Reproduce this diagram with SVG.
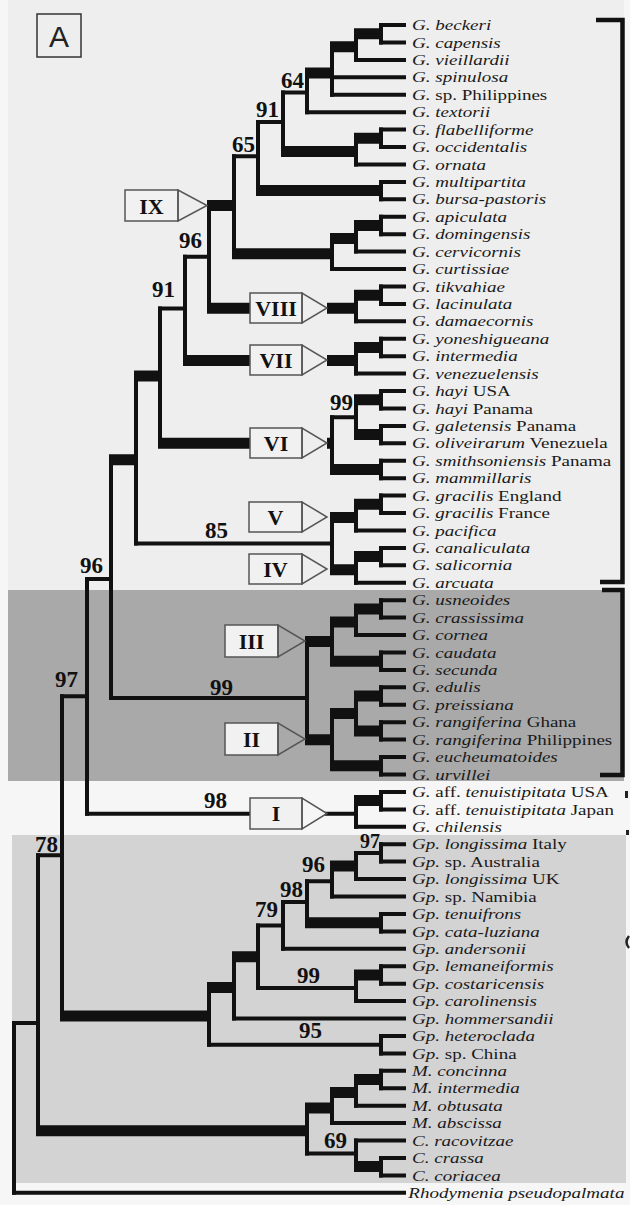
<svg xmlns="http://www.w3.org/2000/svg" width="630" height="1205" viewBox="0 0 630 1205">
<style>
.thin{fill:none;stroke:#111;stroke-width:4;stroke-linecap:square}
.thick{fill:none;stroke:#111;stroke-width:11;stroke-linecap:butt}
.lf{font-family:"Liberation Serif",serif;font-size:15.6px;fill:#1a1a1a}
.i{font-style:italic}
.bs{font-family:"Liberation Serif",serif;font-size:23px;font-weight:bold;fill:#111;text-anchor:end}
.bx{fill:#f1f1f1;stroke:#555;stroke-width:1.5}
.tri{fill:none;stroke:#555;stroke-width:1.5}
.rn{font-family:"Liberation Serif",serif;font-size:22px;font-weight:bold;fill:#111;text-anchor:middle}
.br{fill:none;stroke:#111;stroke-width:4.5}
</style>
<rect x="0" y="0" width="630" height="1205" fill="#f6f6f6"/>
<rect x="8" y="0" width="616" height="590" fill="#eeeeee"/>
<rect x="8" y="590" width="616" height="191" fill="#a9a9a9"/>
<rect x="12" y="835" width="614" height="348" fill="#d3d3d3"/>

<g id="panel-label">
<rect x="37" y="14" width="44" height="43" fill="none" stroke="#333" stroke-width="1.5"/>
<text x="59" y="47" font-family="Liberation Sans,Arial,sans-serif" font-size="30" text-anchor="middle" fill="#222">A</text>
</g>

<g id="connectors">
<path class="thin" d="M14 1023V1192.8M38 855.3V1130.7M62 696.3V1016M87 578.9V813.7M111 459.7V698M136 376V543.5M160 308.6V443.3M185 256.7V360.5M209 205V308.3M234 156.3V253.8M258 122V190.6M283 92.6V151.4M307 72.9V112.2M332 46.8V94.7M356 33.7V59.9M381 25V42.4M381 129.6V147M356 138.3V164.4M381 181.9V199.3M381 216.7V234.2M356 225.5V251.6M332 238.5V269M381 286.5V303.9M356 295.2V321.3M381 338.7V356.2M356 347.4V373.6M381 391V408.5M381 425.9V443.3M356 399.7V434.6M381 460.8V478.2M332 417.2V469.5M381 495.6V513M356 504.3V530.5M381 547.9V565.3M356 556.6V582.8M332 517.4V569.7M381 600.2V617.6M356 608.9V635.1M381 652.5V669.9M332 622V661.2M381 687.3V704.8M381 722.2V739.6M356 696V730.9M381 757.1V774.5M332 713.5V765.8M307 641.6V739.7M381 791.9V809.4M356 800.6V826.8M381 844.2V861.6M356 852.9V879.1M332 866V896.5M381 913.9V931.4M307 881.3V922.7M283 902V948.8M381 966.2V983.7M356 975V1001.1M258 925.4V988M234 956.7V1018.5M381 1035.9V1053.4M209 987.6V1044.7M381 1070.8V1088.2M356 1079.5V1105.7M332 1092.6V1123.1M381 1157.9V1175.4M356 1140.5V1166.6M307 1107.9V1153.6"/>
<path class="thin" d="M381 25H404M381 42.4H404M356 59.9H404M332 77.3H404M332 94.7H404M307 112.2H404M381 129.6H404M381 147H404M356 164.4H404M381 181.9H404M381 199.3H404M381 216.7H404M381 234.2H404M356 251.6H404M332 269H404M381 286.5H404M381 303.9H404M356 321.3H404M381 338.7H404M381 356.2H404M356 373.6H404M381 391H404M381 408.5H404M381 425.9H404M381 443.3H404M381 460.8H404M381 478.2H404M381 495.6H404M381 513H404M356 530.5H404M381 547.9H404M381 565.3H404M356 582.8H404M381 600.2H404M381 617.6H404M356 635.1H404M381 652.5H404M381 669.9H404M381 687.3H404M381 704.8H404M381 722.2H404M381 739.6H404M381 757.1H404M381 774.5H404M381 791.9H404M381 809.4H404M356 826.8H404M381 844.2H404M381 861.6H404M356 879.1H404M332 896.5H404M381 913.9H404M381 931.4H404M283 948.8H404M381 966.2H404M381 983.7H404M356 1001.1H404M234 1018.5H404M381 1035.9H404M381 1053.4H404M381 1070.8H404M381 1088.2H404M356 1105.7H404M332 1123.1H404M356 1140.5H404M381 1157.9H404M381 1175.4H404M14 1192.8H404"/>
<path class="thin" d="M14 1023H38M38 855.3H62M62 696.3H87M87 578.9H111M87 813.7H250M327 813.7H356M111 698H307M136 543.5H332M160 308.6H185M185 256.7H209M234 156.3H258M258 122H283M283 92.6H307M332 417.2H356M356 852.9H381M307 881.3H332M283 902H307M258 925.4H283M258 988H356M209 1044.7H381M307 1153.6H356"/>
<path class="thick" d="M36 1130.7H309M60 1016H211M109 459.7H138M134 376H162M158 443.3H250M327 443.3H334M183 360.5H250M327 360.5H358M207 205.5H236M207 308.3H250M327 308.3H358M232 253.8H334M256 190.6H383M281 151.4H358M305 72.9H334M330 46.8H358M354 33.7H383M354 138.3H383M330 238.5H358M354 225.5H383M354 295.2H383M354 347.4H383M330 469.5H383M354 399.7H383M354 434.6H383M330 517.4H358M354 504.3H383M330 569.7H358M354 556.6H383M305 641.6H334M330 622H358M354 608.9H383M330 661.2H383M305 739.7H334M330 713.5H358M354 696H383M354 730.9H383M330 765.8H383M354 800.6H383M330 866H358M305 922.7H383M207 987.6H236M232 956.7H260M354 975H383M305 1107.9H334M330 1092.6H358M354 1079.5H383M354 1166.6H383"/>
</g>

<g id="clade-IX"><rect class="bx" x="125" y="190" width="53" height="31"/><polygon class="tri" points="178,190 178,221 207,205.5"/><text class="rn" x="151.5" y="213.5">IX</text></g>
<g id="clade-VIII"><rect class="bx" x="250" y="293" width="52" height="30"/><polygon class="tri" points="302,293 302,323 327,308"/><text class="rn" x="276" y="316">VIII</text></g>
<g id="clade-VII"><rect class="bx" x="250" y="345" width="52" height="30"/><polygon class="tri" points="302,345 302,375 327,360"/><text class="rn" x="276" y="368">VII</text></g>
<g id="clade-VI"><rect class="bx" x="250" y="428" width="52" height="30"/><polygon class="tri" points="302,428 302,458 327,443"/><text class="rn" x="276" y="451">VI</text></g>
<g id="clade-V"><rect class="bx" x="249" y="502" width="53" height="30"/><polygon class="tri" points="302,502 302,532 327,517"/><text class="rn" x="275.5" y="525">V</text></g>
<g id="clade-IV"><rect class="bx" x="249" y="554" width="53" height="30"/><polygon class="tri" points="302,554 302,584 327,569"/><text class="rn" x="275.5" y="577">IV</text></g>
<g id="clade-III"><rect class="bx" x="225" y="625" width="53" height="32"/><polygon class="tri" points="278,625 278,657 305,641"/><text class="rn" x="251.5" y="649">III</text></g>
<g id="clade-II"><rect class="bx" x="225" y="723" width="53" height="32"/><polygon class="tri" points="278,723 278,755 305,739"/><text class="rn" x="251.5" y="747">II</text></g>
<g id="clade-I"><rect class="bx" x="250" y="798" width="52" height="31"/><polygon class="tri" points="302,798 302,829 327,813.5"/><text class="rn" x="276" y="821">I</text></g>

<g id="support">
<text class="bs" x="304" y="88">64</text>
<text class="bs" x="279" y="117">91</text>
<text class="bs" x="255" y="152">65</text>
<text class="bs" x="202" y="248">96</text>
<text class="bs" x="175" y="297">91</text>
<text class="bs" x="353" y="410">99</text>
<text class="bs" x="228" y="538">85</text>
<text class="bs" x="103" y="573">96</text>
<text class="bs" x="78" y="687">97</text>
<text class="bs" x="233" y="695">99</text>
<text class="bs" x="227" y="808">98</text>
<text class="bs" x="58" y="852">78</text>
<text class="bs" x="380" y="848" style="font-size:20px">97</text>
<text class="bs" x="325" y="872">96</text>
<text class="bs" x="303" y="897">98</text>
<text class="bs" x="278" y="917">79</text>
<text class="bs" x="320" y="983">99</text>
<text class="bs" x="322" y="1038">95</text>
<text class="bs" x="347" y="1148">69</text>
</g>

<g id="brackets">
<path class="br" d="M596 20H622.5V582H600"/>
<path class="br" d="M602 590H622.5V775H600"/>
<rect x="625" y="791" width="3" height="7" fill="#222"/>
<rect x="626" y="830" width="3" height="5" fill="#222"/>
<path d="M629 936Q624 942 629 948" fill="none" stroke="#222" stroke-width="2.5"/>
</g>

<g id="leaves" transform="translate(412 -1.3) scale(1.22 1) translate(-412 0)">
<g id="t01"><text class="lf" x="412" y="31.5"><tspan class="i">G. beckeri</tspan></text></g>
<g id="t02"><text class="lf" x="412" y="48.9"><tspan class="i">G. capensis</tspan></text></g>
<g id="t03"><text class="lf" x="412" y="66.4"><tspan class="i">G. vieillardii</tspan></text></g>
<g id="t04"><text class="lf" x="412" y="83.8"><tspan class="i">G. spinulosa</tspan></text></g>
<g id="t05"><text class="lf" x="412" y="101.2"><tspan class="i">G.</tspan> sp. Philippines</text></g>
<g id="t06"><text class="lf" x="412" y="118.7"><tspan class="i">G. textorii</tspan></text></g>
<g id="t07"><text class="lf" x="412" y="136.1"><tspan class="i">G. flabelliforme</tspan></text></g>
<g id="t08"><text class="lf" x="412" y="153.5"><tspan class="i">G. occidentalis</tspan></text></g>
<g id="t09"><text class="lf" x="412" y="170.9"><tspan class="i">G. ornata</tspan></text></g>
<g id="t10"><text class="lf" x="412" y="188.4"><tspan class="i">G. multipartita</tspan></text></g>
<g id="t11"><text class="lf" x="412" y="205.8"><tspan class="i">G. bursa-pastoris</tspan></text></g>
<g id="t12"><text class="lf" x="412" y="223.2"><tspan class="i">G. apiculata</tspan></text></g>
<g id="t13"><text class="lf" x="412" y="240.7"><tspan class="i">G. domingensis</tspan></text></g>
<g id="t14"><text class="lf" x="412" y="258.1"><tspan class="i">G. cervicornis</tspan></text></g>
<g id="t15"><text class="lf" x="412" y="275.5"><tspan class="i">G. curtissiae</tspan></text></g>
<g id="t16"><text class="lf" x="412" y="293"><tspan class="i">G. tikvahiae</tspan></text></g>
<g id="t17"><text class="lf" x="412" y="310.4"><tspan class="i">G. lacinulata</tspan></text></g>
<g id="t18"><text class="lf" x="412" y="327.8"><tspan class="i">G. damaecornis</tspan></text></g>
<g id="t19"><text class="lf" x="412" y="345.2"><tspan class="i">G. yoneshigueana</tspan></text></g>
<g id="t20"><text class="lf" x="412" y="362.7"><tspan class="i">G. intermedia</tspan></text></g>
<g id="t21"><text class="lf" x="412" y="380.1"><tspan class="i">G. venezuelensis</tspan></text></g>
<g id="t22"><text class="lf" x="412" y="397.5"><tspan class="i">G. hayi</tspan> USA</text></g>
<g id="t23"><text class="lf" x="412" y="415"><tspan class="i">G. hayi</tspan> Panama</text></g>
<g id="t24"><text class="lf" x="412" y="432.4"><tspan class="i">G. galetensis</tspan> Panama</text></g>
<g id="t25"><text class="lf" x="412" y="449.8"><tspan class="i">G. oliveirarum</tspan> Venezuela</text></g>
<g id="t26"><text class="lf" x="412" y="467.3"><tspan class="i">G. smithsoniensis</tspan> Panama</text></g>
<g id="t27"><text class="lf" x="412" y="484.7"><tspan class="i">G. mammillaris</tspan></text></g>
<g id="t28"><text class="lf" x="412" y="502.1"><tspan class="i">G. gracilis</tspan> England</text></g>
<g id="t29"><text class="lf" x="412" y="519.5"><tspan class="i">G. gracilis</tspan> France</text></g>
<g id="t30"><text class="lf" x="412" y="537"><tspan class="i">G. pacifica</tspan></text></g>
<g id="t31"><text class="lf" x="412" y="554.4"><tspan class="i">G. canaliculata</tspan></text></g>
<g id="t32"><text class="lf" x="412" y="571.8"><tspan class="i">G. salicornia</tspan></text></g>
<g id="t33"><text class="lf" x="412" y="589.3"><tspan class="i">G. arcuata</tspan></text></g>
<g id="t34"><text class="lf" x="412" y="606.7"><tspan class="i">G. usneoides</tspan></text></g>
<g id="t35"><text class="lf" x="412" y="624.1"><tspan class="i">G. crassissima</tspan></text></g>
<g id="t36"><text class="lf" x="412" y="641.6"><tspan class="i">G. cornea</tspan></text></g>
<g id="t37"><text class="lf" x="412" y="659"><tspan class="i">G. caudata</tspan></text></g>
<g id="t38"><text class="lf" x="412" y="676.4"><tspan class="i">G. secunda</tspan></text></g>
<g id="t39"><text class="lf" x="412" y="693.8"><tspan class="i">G. edulis</tspan></text></g>
<g id="t40"><text class="lf" x="412" y="711.3"><tspan class="i">G. preissiana</tspan></text></g>
<g id="t41"><text class="lf" x="412" y="728.7"><tspan class="i">G. rangiferina</tspan> Ghana</text></g>
<g id="t42"><text class="lf" x="412" y="746.1"><tspan class="i">G. rangiferina</tspan> Philippines</text></g>
<g id="t43"><text class="lf" x="412" y="763.6"><tspan class="i">G. eucheumatoides</tspan></text></g>
<g id="t44"><text class="lf" x="412" y="781"><tspan class="i">G. urvillei</tspan></text></g>
<g id="t45"><text class="lf" x="412" y="798.4"><tspan class="i">G.</tspan> aff. <tspan class="i">tenuistipitata</tspan> USA</text></g>
<g id="t46"><text class="lf" x="412" y="815.9"><tspan class="i">G.</tspan> aff. <tspan class="i">tenuistipitata</tspan> Japan</text></g>
<g id="t47"><text class="lf" x="412" y="833.3"><tspan class="i">G. chilensis</tspan></text></g>
<g id="t48"><text class="lf" x="412" y="850.7"><tspan class="i">Gp. longissima</tspan> Italy</text></g>
<g id="t49"><text class="lf" x="412" y="868.1"><tspan class="i">Gp.</tspan> sp. Australia</text></g>
<g id="t50"><text class="lf" x="412" y="885.6"><tspan class="i">Gp. longissima</tspan> UK</text></g>
<g id="t51"><text class="lf" x="412" y="903"><tspan class="i">Gp.</tspan> sp. Namibia</text></g>
<g id="t52"><text class="lf" x="412" y="920.4"><tspan class="i">Gp. tenuifrons</tspan></text></g>
<g id="t53"><text class="lf" x="412" y="937.9"><tspan class="i">Gp. cata-luziana</tspan></text></g>
<g id="t54"><text class="lf" x="412" y="955.3"><tspan class="i">Gp. andersonii</tspan></text></g>
<g id="t55"><text class="lf" x="412" y="972.7"><tspan class="i">Gp. lemaneiformis</tspan></text></g>
<g id="t56"><text class="lf" x="412" y="990.2"><tspan class="i">Gp. costaricensis</tspan></text></g>
<g id="t57"><text class="lf" x="412" y="1007.6"><tspan class="i">Gp. carolinensis</tspan></text></g>
<g id="t58"><text class="lf" x="412" y="1025"><tspan class="i">Gp. hommersandii</tspan></text></g>
<g id="t59"><text class="lf" x="412" y="1042.4"><tspan class="i">Gp. heteroclada</tspan></text></g>
<g id="t60"><text class="lf" x="412" y="1059.9"><tspan class="i">Gp.</tspan> sp. China</text></g>
<g id="t61"><text class="lf" x="412" y="1077.3"><tspan class="i">M. concinna</tspan></text></g>
<g id="t62"><text class="lf" x="412" y="1094.7"><tspan class="i">M. intermedia</tspan></text></g>
<g id="t63"><text class="lf" x="412" y="1112.2"><tspan class="i">M. obtusata</tspan></text></g>
<g id="t64"><text class="lf" x="412" y="1129.6"><tspan class="i">M. abscissa</tspan></text></g>
<g id="t65"><text class="lf" x="412" y="1147"><tspan class="i">C. racovitzae</tspan></text></g>
<g id="t66"><text class="lf" x="412" y="1164.4"><tspan class="i">C. crassa</tspan></text></g>
<g id="t67"><text class="lf" x="412" y="1181.9"><tspan class="i">C. coriacea</tspan></text></g>
<g id="t68"><text class="lf" x="409" y="1199.3"><tspan class="i">Rhodymenia pseudopalmata</tspan></text></g>
</g>
</svg>
